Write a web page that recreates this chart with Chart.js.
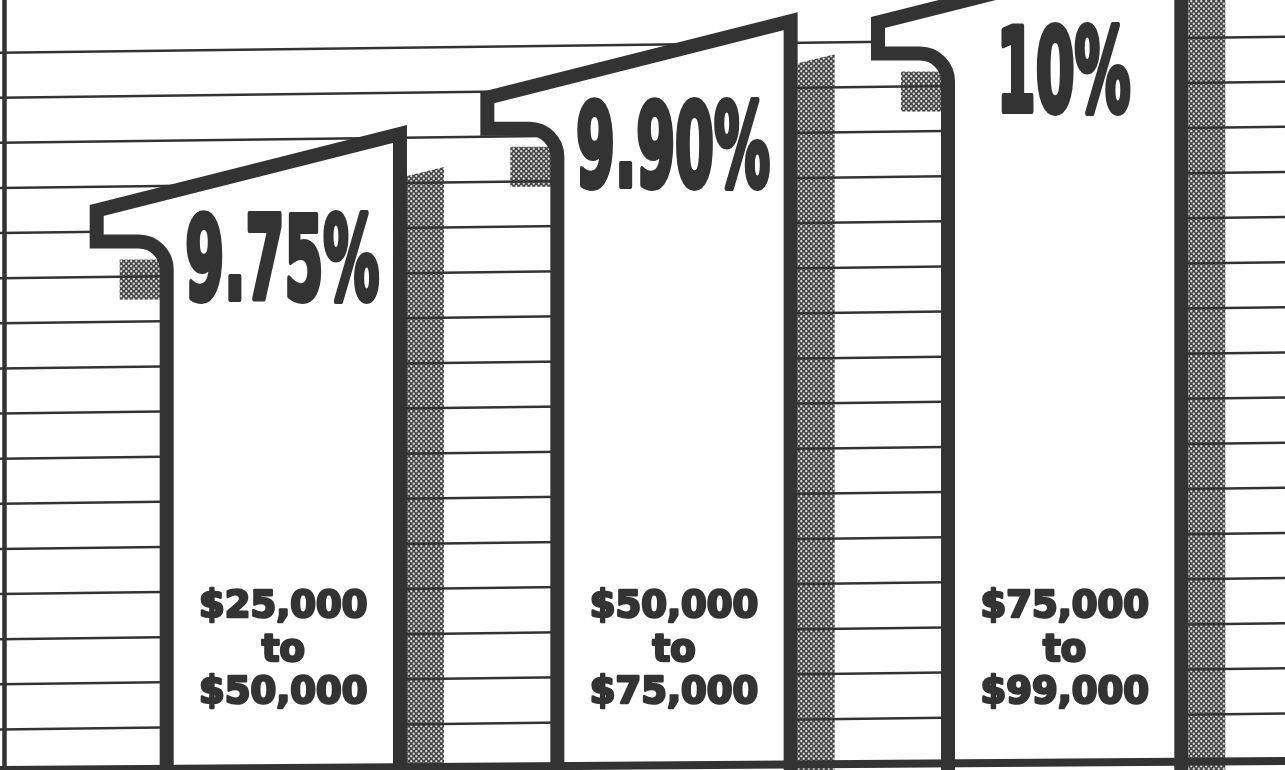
<!DOCTYPE html>
<html>
<head>
<meta charset="utf-8">
<script src="https://cdn.jsdelivr.net/npm/chart.js@4.4.1/dist/chart.umd.min.js"></script>
<style>
  html, body { margin: 0; padding: 0; background: #fff; }
  canvas { display: block; }
</style>
</head>
<body>
<canvas id="rateChart" width="1285" height="770"></canvas>
<script>
// income brackets and the rate for each
var categories = ['$25,000 to $50,000', '$50,000 to $75,000', '$75,000 to $99,000'];
var rangeFrom  = ['$25,000', '$50,000', '$75,000'];
var rangeTo    = ['$50,000', '$75,000', '$99,000'];
var rates      = [9.75, 9.90, 10];
var rateLabels = ['9.75%', '9.90%', '10%'];

// ruled lines of the background, in rate units
var ruleValues = [9.06, 9.12, 9.18, 9.24, 9.30, 9.36, 9.42, 9.48, 9.54, 9.60, 9.66, 9.72, 9.78, 9.84, 9.90, 9.96];

var Y_MIN = 9.01, Y_MAX = 10.03;
var ink = '#333333';
var TILT = 16;      // the rules climb a little to the right
var STROKE = 14;
var dots = null;

function halftone(ctx) {
    var t = document.createElement('canvas');
    t.width = 5; t.height = 5;
    var c = t.getContext('2d');
    c.fillStyle = '#444444';
    c.fillRect(0, 0, 5, 5);
    c.fillStyle = '#dcdcdc';
    [[1.25, 1.25], [3.75, 3.75]].forEach(function (p) {
        c.beginPath();
        c.arc(p[0], p[1], 1.15, 0, Math.PI * 2);
        c.fill();
    });
    return ctx.createPattern(t, 'repeat');
}

// outline of one bar: stem, tab on the left, sloped top
function barGeometry(el) {
    var half = el.width / 2;
    var g = {};
    g.outerL = el.x - half;
    g.outerR = el.x + half;
    g.L = g.outerL + STROKE / 2;
    g.R = g.outerR - STROKE / 2;
    g.tabX = g.outerL - 63;
    g.topL = el.y;
    g.topR = el.y - 0.2525 * (g.R - g.tabX);
    g.tabBot = el.y + 31;
    return g;
}

var paper = {
    id: 'paper',
    beforeDatasetsDraw: function (chart) {
        var ctx = chart.ctx, y = chart.scales.y, W = chart.width;
        var base = y.getPixelForValue(Y_MIN);
        var meta = chart.getDatasetMeta(0);
        if (!dots) dots = halftone(ctx);
        ctx.save();
        ctx.fillStyle = dots;
        meta.data.forEach(function (el) {
            var g = barGeometry(el);
            // shadow on the right of the bar
            ctx.beginPath();
            ctx.moveTo(g.outerR, g.topR + 42);
            ctx.lineTo(g.outerR + 37, g.topR + 33);
            ctx.lineTo(g.outerR + 37, base + 10);
            ctx.lineTo(g.outerR, base + 10);
            ctx.closePath();
            ctx.fill();
            // shadow under the tab
            ctx.fillRect(g.outerL - 40, g.tabBot + 18, 44, 40);
        });
        // ruled lines
        ctx.strokeStyle = ink;
        ctx.lineWidth = 2.5;
        ruleValues.forEach(function (v) {
            var py = y.getPixelForValue(v);
            ctx.beginPath();
            ctx.moveTo(0, py);
            ctx.lineTo(W, py - TILT);
            ctx.stroke();
        });
        // left edge
        ctx.lineWidth = 4.5;
        ctx.beginPath();
        ctx.moveTo(4.5, 0);
        ctx.lineTo(4.5, chart.height);
        ctx.stroke();
        ctx.restore();
    },
    afterDatasetsDraw: function (chart) {
        var ctx = chart.ctx, W = chart.width;
        var base = chart.scales.y.getPixelForValue(Y_MIN);
        var meta = chart.getDatasetMeta(0);
        ctx.save();
        meta.data.forEach(function (el, i) {
            var g = barGeometry(el);
            var r = 28;
            ctx.beginPath();
            ctx.moveTo(g.L, base + 20);
            ctx.lineTo(g.L, g.tabBot + r);
            ctx.arcTo(g.L, g.tabBot, g.L - r, g.tabBot, r);
            ctx.lineTo(g.tabX, g.tabBot);
            ctx.lineTo(g.tabX, g.topL);
            ctx.lineTo(g.R, g.topR);
            ctx.lineTo(g.R, base + 20);
            ctx.closePath();
            ctx.fillStyle = '#ffffff';
            ctx.fill();
            ctx.strokeStyle = ink;
            ctx.lineWidth = STROKE;
            ctx.lineJoin = 'miter';
            ctx.stroke();
        });

        // big rate figures, squeezed and thickened
        ctx.fillStyle = ink;
        ctx.strokeStyle = ink;
        ctx.lineJoin = 'round';
        ctx.textAlign = 'center';
        ctx.textBaseline = 'alphabetic';
        ctx.font = 'bold 116px "DejaVu Sans Condensed", "DejaVu Sans", sans-serif';
        var sx = 194 / ctx.measureText(rateLabels[0]).width;
        meta.data.forEach(function (el, i) {
            ctx.save();
            ctx.translate(el.x - 1, el.y + 88);
            ctx.scale(sx, 1);
            ctx.lineWidth = 6;
            ctx.strokeText(rateLabels[i], 0, 0);
            ctx.fillText(rateLabels[i], 0, 0);
            ctx.restore();
        });

        // bracket labels
        ctx.font = 'bold 37px "DejaVu Sans", sans-serif';
        ctx.lineWidth = 2.5;
        meta.data.forEach(function (el, i) {
            [[rangeFrom[i], 150], ['to', 106], [rangeTo[i], 64]].forEach(function (t) {
                ctx.strokeText(t[0], el.x, base - t[1]);
                ctx.fillText(t[0], el.x, base - t[1]);
            });
        });

        // baseline
        ctx.lineWidth = 8;
        ctx.lineJoin = 'miter';
        ctx.beginPath();
        ctx.moveTo(0, base + 3);
        ctx.lineTo(W, base - 6);
        ctx.stroke();
        ctx.restore();
    }
};

var ctx = document.getElementById('rateChart').getContext('2d');
var rateChart = new Chart(ctx, {
    type: 'bar',
    data: {
        labels: categories,
        datasets: [{
            label: 'Rate',
            data: rates,
            base: Y_MIN,
            backgroundColor: 'rgba(0,0,0,0)',
            borderWidth: 0,
            barPercentage: 0.633,
            categoryPercentage: 1
        }]
    },
    options: {
        responsive: false,
        animation: false,
        layout: { padding: { left: 88, right: 25, top: 0, bottom: 3 } },
        plugins: {
            legend: { display: false },
            tooltip: { enabled: false }
        },
        scales: {
            x: { display: false },
            y: { display: false, min: Y_MIN, max: Y_MAX }
        }
    },
    plugins: [paper]
});
</script>
</body>
</html>
